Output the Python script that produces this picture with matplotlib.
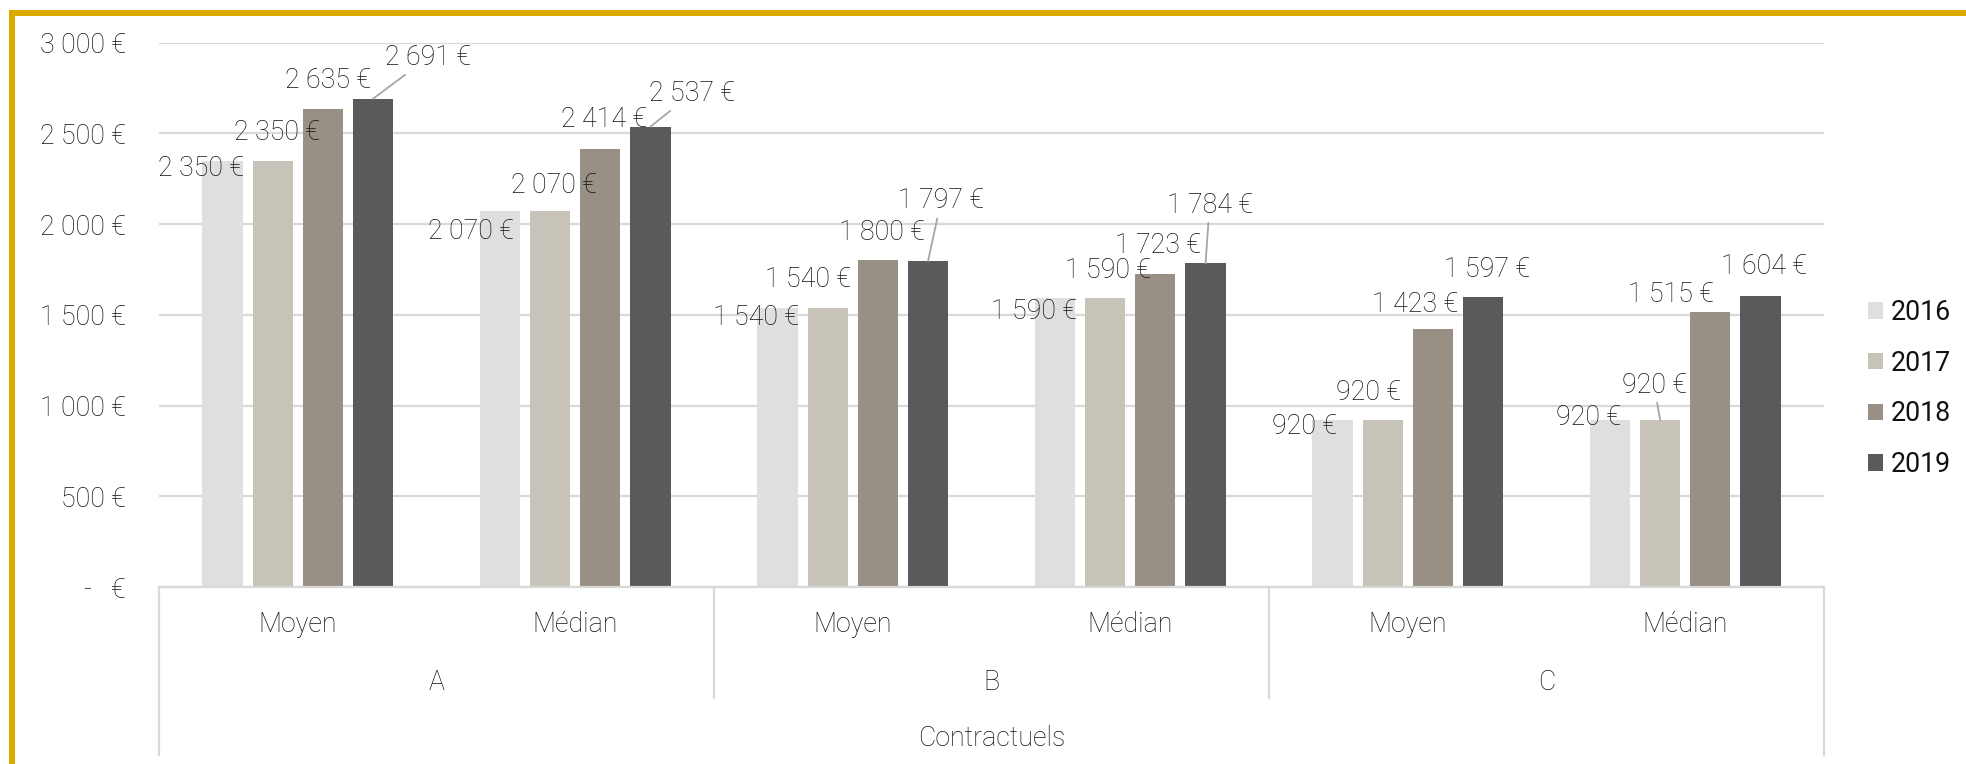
import matplotlib.pyplot as plt
import numpy as np
from matplotlib.lines import Line2D

plt.rcParams['font.family'] = ['Roboto', 'DejaVu Sans']

# data
years = ['2016', '2017', '2018', '2019']
stats = ['Moyen', 'Médian', 'Moyen', 'Médian', 'Moyen', 'Médian']
groups = ['A', 'B', 'C']
top_label = 'Contractuels'

v2016 = [2350, 2070, 1540, 1590, 920, 920]
v2017 = [2350, 2070, 1540, 1590, 920, 920]
v2018 = [2635, 2414, 1800, 1723, 1423, 1515]
v2019 = [2691, 2537, 1797, 1784, 1597, 1604]

colors = ['#e0dfdd', '#c7c3b8', '#988f85', '#5a5a5a']

# label offsets (pixels from bar top centre), one row per year
offsets = [
    [(-21, -8), (-29, -20), (-21, -10), (-21, -13), (-28, -6), (-21, 3)],
    [(4, 28), (4, 26), (-20, 28), (3, 28), (-14, 28), (-6, 35)],
    [(5, 28), (4, 29), (4, 28), (3, 29), (-18, 24), (-39, 18)],
    [(55, 41), (41, 33), (13, 60), (4, 58), (4, 28), (3, 29)],
]
leaders = {(3, 0), (3, 1), (3, 2), (3, 3), (1, 5)}

txt = '#111111'
grid = '#d9d9d9'
fs = 19.3

fig = plt.figure(figsize=(19.66, 7.64), dpi=100)
ax = fig.add_axes([159 / 1966, 1 - 587 / 764, (1824 - 159) / 1966, (587 - 42.6) / 764])

x = np.arange(len(stats))
step = 0.181
width = 0.145
series = [v2016, v2017, v2018, v2019]
bars = []
for i, vals in enumerate(series):
    b = ax.bar(x + (i - 1.5) * step, vals, width, color=colors[i], label=years[i], zorder=2)
    bars.append(b)
    for j, rect in enumerate(b):
        cx = rect.get_x() + rect.get_width() / 2
        lbl = f"{vals[j]:,} €".replace(',', ' ')
        arrow = None
        if (i, j) in leaders:
            arrow = dict(arrowstyle='-', color='#a6a6a6', lw=1.3, shrinkA=1, shrinkB=0)
        ax.annotate(lbl, (cx, vals[j]), xytext=offsets[i][j], textcoords='offset pixels',
                    ha='center', va='center', fontsize=fs, fontweight='light', color=txt,
                    arrowprops=arrow, zorder=3)

ax.set_xlim(-0.5, 5.5)
ax.set_ylim(0, 3000)
ax.set_yticks(np.arange(0, 3001, 500))
ax.set_yticklabels(['-   €'] + [f"{v:,} €".replace(',', ' ') for v in range(500, 3001, 500)])
ax.tick_params(axis='y', length=0, pad=24, labelsize=fs, labelcolor=txt)
for lab in ax.get_yticklabels():
    lab.set_fontweight('light')
ax.set_xticks([])
ax.yaxis.grid(True, color=grid, lw=1.6, zorder=0)
for s in ['top', 'right', 'left']:
    ax.spines[s].set_visible(False)
ax.spines['bottom'].set_color(grid)
ax.spines['bottom'].set_linewidth(1.6)

# hierarchical category axis
axh = 544.4
tr = ax.get_xaxis_transform()
for j, s in enumerate(stats):
    ax.text(j, -38 / axh, s, transform=tr, ha='center', va='center',
            fontsize=fs, fontweight='light', color=txt)
for k, g in enumerate(groups):
    ax.text(2 * k + 0.5, -96 / axh, g, transform=tr, ha='center', va='center',
            fontsize=fs, fontweight='light', color=txt)
ax.text(2.5, -151 / axh, top_label, transform=tr, ha='center', va='center',
        fontsize=fs, fontweight='light', color=txt)
for xs, yb in [(-0.5, -168), (1.5, -111), (3.5, -111), (5.5, -168)]:
    ax.add_line(Line2D([xs, xs], [0, yb / axh], transform=tr, color=grid, lw=1.6, clip_on=False))

# legend
ax.legend(handles=bars, loc='center left', bbox_to_anchor=(1868 / 1966, 1 - 388.5 / 764),
          bbox_transform=fig.transFigure, frameon=False, fontsize=fs, borderpad=0,
          borderaxespad=0, handlelength=0.56, handleheight=0.56, handletextpad=0.3,
          labelspacing=0.88, labelcolor=txt)

# gold frame (top and left edges)
fig.add_artist(Line2D([12 / 1966, 1], [1 - 12.5 / 764, 1 - 12.5 / 764], color='#dcab00', lw=4.3,
                      transform=fig.transFigure, solid_capstyle='butt'))
fig.add_artist(Line2D([12 / 1966, 12 / 1966], [0, 1 - 10 / 764], color='#dcab00', lw=4.3,
                      transform=fig.transFigure, solid_capstyle='butt'))

fig.savefig('out.png', dpi=100)
